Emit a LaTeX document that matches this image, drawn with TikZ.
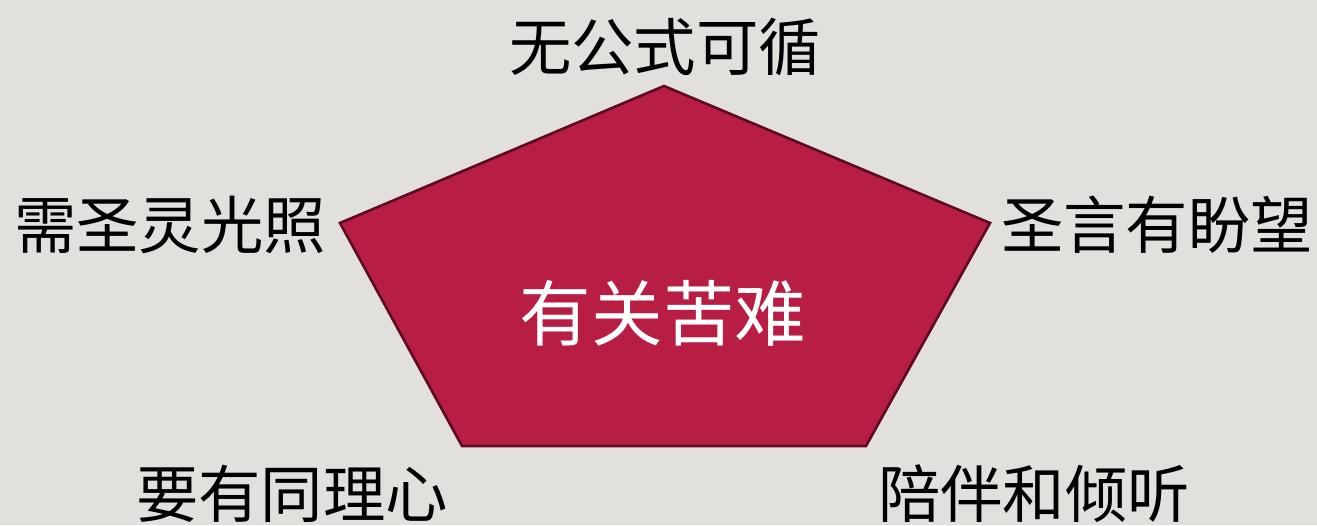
\documentclass[tikz,border=0pt]{standalone}
\usepackage{fontspec}
\newfontfamily\cjk{Noto Sans CJK SC}
\definecolor{bg}{HTML}{E2E0DC}
\definecolor{penta}{HTML}{B81E44}
\definecolor{pentaline}{HTML}{5E0B22}
\begin{document}
\begin{tikzpicture}[x=0.5pt,y=-0.5pt,
  lbl/.style={font=\cjk\fontsize{31.2}{34}\selectfont, text=black, inner sep=0pt},
  ctr/.style={font=\cjk\fontsize{35.8}{40}\selectfont, text=white, inner sep=0pt}]
\fill[bg] (0,0) rectangle (1317,525);
\useasboundingbox (0,0) rectangle (1317,525);
\coordinate (T) at (664,86);
\coordinate (R) at (990,223);
\coordinate (BR) at (866,446);
\coordinate (BL) at (462,446);
\coordinate (L) at (340,223);
\fill[pentaline, opacity=0.5, shift={(2,2)}] (T) -- (R) -- (BR) -- (BL) -- (L) -- cycle;
\filldraw[fill=penta, draw=pentaline, line width=1.3pt, line join=miter] (T) -- (R) -- (BR) -- (BL) -- (L) -- cycle;
\node[ctr] (c) at (663,313) {有关苦难};
\node[lbl] (t) at (665,47) {无公式可循};
\node[lbl] (l) at (170,225) {需圣灵光照};
\node[lbl] (r) at (1157,225) {圣言有盼望};
\node[lbl] (bl) at (292,494) {要有同理心};
\node[lbl] (br) at (1034,494) {陪伴和倾听};
\end{tikzpicture}
\end{document}
